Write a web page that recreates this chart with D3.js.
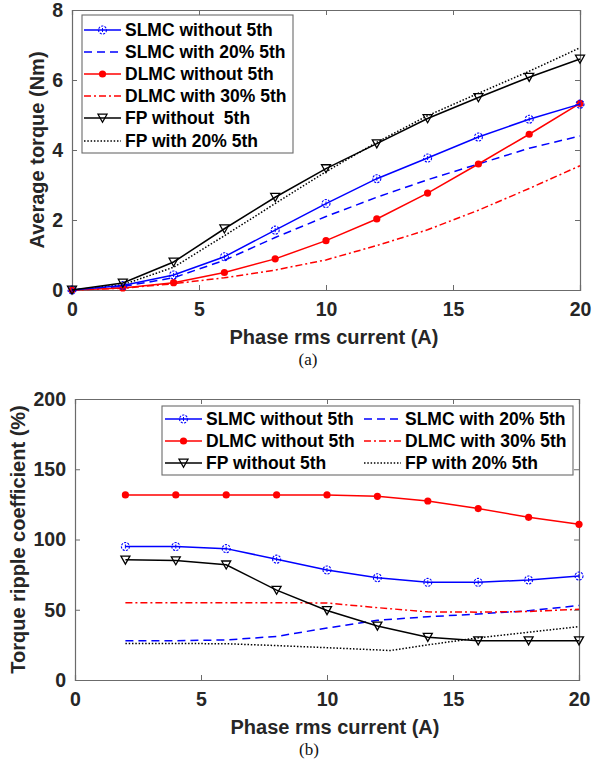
<!DOCTYPE html>
<html><head><meta charset="utf-8">
<script src="https://cdn.jsdelivr.net/npm/d3@7"></script>
<style>body{margin:0;background:#fff}svg{display:block}text{white-space:pre}</style>
</head><body>
<svg id="c" width="592" height="762"></svg>
<script>
// ---- data: chart (a) average torque ----
const currentA = [0, 2, 4, 6, 8, 10, 12, 14, 16, 18, 20];
const slmcA    = [0, 0.13, 0.43, 0.95, 1.71, 2.47, 3.18, 3.77, 4.37, 4.88, 5.31];
const slmc20A  = [0, 0.10, 0.35, 0.85, 1.50, 2.10, 2.65, 3.15, 3.60, 4.05, 4.40];
const dlmcA    = [0, 0.06, 0.21, 0.50, 0.89, 1.41, 2.03, 2.77, 3.60, 4.45, 5.33];
const dlmc30A  = [0, 0.05, 0.18, 0.35, 0.57, 0.86, 1.27, 1.72, 2.28, 2.90, 3.55];
const fpA      = [0, 0.20, 0.80, 1.75, 2.65, 3.47, 4.18, 4.90, 5.50, 6.08, 6.60];
const fp20A    = [0, 0.15, 0.65, 1.55, 2.47, 3.38, 4.22, 4.98, 5.62, 6.25, 6.92];
const xTicksA = [0, 5, 10, 15, 20];
const yTicksA = [0, 2, 4, 6, 8];

// ---- data: chart (b) torque ripple coefficient ----
const currentB = [2, 4, 6, 8, 10, 12, 14, 16, 18, 20];
const slmcB    = [95, 95, 93.5, 86, 78.3, 72.8, 69.5, 69.5, 71.2, 74];
const slmc20B  = [28, 28, 28.5, 31, 37, 42.5, 45, 47, 49.3, 53];
const dlmcB    = [131.7, 131.7, 131.7, 131.7, 131.7, 130.7, 127.4, 122, 115.8, 110.8];
const dlmc30B  = [55, 55, 55, 55, 54.8, 51.5, 48.5, 48.3, 48.8, 50.3];
const fpB      = [85.5, 85, 82, 64, 49.5, 38.5, 30.5, 28, 28, 28];
const fp20CurrentB = [2, 4, 6, 8, 10, 12.5, 14, 16, 18, 20];
const fp20B    = [26, 26, 25.8, 24.5, 23, 21, 25, 30, 34, 38];
const xTicksB = [0, 5, 10, 15, 20];
const yTicksB = [0, 50, 100, 150, 200];

const labels = {
  slmc: "SLMC without 5th", slmc20: "SLMC with 20% 5th",
  dlmc: "DLMC without 5th", dlmc30: "DLMC with 30% 5th",
  fpA: "FP without  5th", fpB: "FP without 5th", fp20: "FP with 20% 5th"
};

const BLUE = "#0000ff", RED = "#ff0000", BLACK = "#000000";
const TXT = "#262626", AX = "#6b6b6b";
const styles = {
  slmc:   {color: BLUE, dash: null, marker: "circleOpen"},
  slmc20: {color: BLUE, dash: "8,5", marker: null},
  dlmc:   {color: RED, dash: null, marker: "dot"},
  dlmc30: {color: RED, dash: "7,3,2,3", marker: null},
  fp:     {color: BLACK, dash: null, marker: "tri"},
  fp20:   {color: BLACK, dash: "1.5,1.8", marker: null}
};

const svg = d3.select("#c");
const FONT = "'Liberation Sans', Arial, sans-serif";

function drawMarker(g, type, color, x, y) {
  if (type === "circleOpen") {
    g.append("circle").attr("cx", x).attr("cy", y).attr("r", 4)
      .attr("fill", "none").attr("stroke", color).attr("stroke-width", 1.1)
      .attr("stroke-dasharray", "2.2,1.2");
    g.append("line").attr("x1", x).attr("x2", x).attr("y1", y - 2).attr("y2", y + 2)
      .attr("stroke", color).attr("stroke-width", 1);
  } else if (type === "dot") {
    g.append("circle").attr("cx", x).attr("cy", y).attr("r", 3.6).attr("fill", color);
  } else if (type === "tri") {
    g.append("path").attr("d", `M${x-4.5},${y-3.8}L${x+4.5},${y-3.8}L${x},${y+4.2}Z`)
      .attr("fill", "none").attr("stroke", color).attr("stroke-width", 1.3);
  }
}

function drawPanel(cfg) {
  const {L, R, T, B, xDomain, yDomain, xTicks, yTicks, yLabel, yLabelX, tag, series} = cfg;
  const x = d3.scaleLinear().domain(xDomain).range([L, R]);
  const y = d3.scaleLinear().domain(yDomain).range([B, T]);
  const g = svg.append("g");

  // axes with inward ticks on all four sides
  const tl = 5;
  const axB = d3.axisBottom(x).tickValues(xTicks).tickSize(-tl).tickPadding(10).tickFormat(d3.format("d"));
  const axT = d3.axisTop(x).tickValues(xTicks).tickSize(-tl).tickFormat("");
  const axL = d3.axisLeft(y).tickValues(yTicks).tickSize(-tl).tickPadding(9).tickFormat(d3.format("d"));
  const axR = d3.axisRight(y).tickValues(yTicks).tickSize(-tl).tickFormat("");
  const gb = g.append("g").attr("transform", `translate(0,${B})`).call(axB);
  const gt = g.append("g").attr("transform", `translate(0,${T})`).call(axT);
  const gl = g.append("g").attr("transform", `translate(${L},0)`).call(axL);
  const gr = g.append("g").attr("transform", `translate(${R},0)`).call(axR);
  [gb, gt, gl, gr].forEach(a => {
    a.select(".domain").attr("stroke", AX).attr("stroke-width", 1.2);
    a.selectAll(".tick line").attr("stroke", AX).attr("stroke-width", 1);
    a.selectAll("text").attr("fill", TXT).attr("font-family", FONT)
      .attr("font-weight", "bold").attr("font-size", 19.5);
  });
  gb.selectAll("text").attr("dy", "0.71em").attr("y", 12);
  gl.selectAll("text").attr("x", -9);

  // series
  const clip = g.append("g");
  series.forEach(s => {
    const st = styles[s.style];
    const pts = s.xs.map((v, i) => [x(v), y(s.ys[i])]);
    clip.append("path").attr("d", d3.line()(pts))
      .attr("fill", "none").attr("stroke", st.color).attr("stroke-width", 1.5)
      .attr("stroke-dasharray", st.dash);
    if (st.marker) pts.forEach(p => drawMarker(clip, st.marker, st.color, p[0], p[1]));
  });

  // axis labels
  g.append("text").attr("x", (L + R) / 2 + 8).attr("y", B + 54).attr("text-anchor", "middle")
    .attr("font-family", FONT).attr("font-weight", "bold").attr("font-size", 20)
    .attr("fill", TXT).text("Phase rms current (A)");
  g.append("text").attr("transform", `translate(${yLabelX},${(T + B) / 2}) rotate(-90)`)
    .attr("text-anchor", "middle").attr("dy", "0.35em")
    .attr("font-family", FONT).attr("font-weight", "bold").attr("font-size", 20)
    .attr("fill", TXT).text(yLabel);
  g.append("text").attr("x", (L + R) / 2 - 18).attr("y", B + 75).attr("text-anchor", "middle")
    .attr("font-family", "'Liberation Serif', 'Times New Roman', serif").attr("font-size", 17)
    .attr("fill", "#111").text(tag);

  // legend
  const lg = cfg.legend;
  g.append("rect").attr("x", lg.x).attr("y", lg.y).attr("width", lg.w).attr("height", lg.h)
    .attr("fill", "#fff").attr("stroke", AX).attr("stroke-width", 1.1);
  lg.items.forEach(it => {
    const st = styles[it.style];
    const lx0 = it.x, lx1 = it.x + 37, ly = it.y - 6;
    g.append("line").attr("x1", lx0).attr("x2", lx1).attr("y1", ly).attr("y2", ly)
      .attr("stroke", st.color).attr("stroke-width", 1.5).attr("stroke-dasharray", st.dash);
    if (st.marker) drawMarker(g, st.marker, st.color, (lx0 + lx1) / 2, ly);
    g.append("text").attr("x", it.x + 41).attr("y", it.y)
      .attr("font-family", FONT).attr("font-weight", "bold").attr("font-size", 17.5)
      .attr("fill", "#000").text(it.label);
  });
}

drawPanel({
  L: 72, R: 580, T: 10, B: 290, xDomain: [0, 20], yDomain: [0, 8],
  xTicks: xTicksA, yTicks: yTicksA, yLabel: "Average torque (Nm)", yLabelX: 37, tag: "(a)",
  series: [
    {xs: currentA, ys: slmc20A, style: "slmc20"},
    {xs: currentA, ys: dlmc30A, style: "dlmc30"},
    {xs: currentA, ys: fp20A, style: "fp20"},
    {xs: currentA, ys: dlmcA, style: "dlmc"},
    {xs: currentA, ys: slmcA, style: "slmc"},
    {xs: currentA, ys: fpA, style: "fp"}
  ],
  legend: {x: 82, y: 15, w: 211, h: 138, items: [
    {x: 84, y: 36, style: "slmc", label: labels.slmc},
    {x: 84, y: 58, style: "slmc20", label: labels.slmc20},
    {x: 84, y: 80, style: "dlmc", label: labels.dlmc},
    {x: 84, y: 102, style: "dlmc30", label: labels.dlmc30},
    {x: 84, y: 124, style: "fp", label: labels.fpA},
    {x: 84, y: 147, style: "fp20", label: labels.fp20}
  ]}
});

drawPanel({
  L: 75, R: 579, T: 399, B: 680, xDomain: [0, 20], yDomain: [0, 200],
  xTicks: xTicksB, yTicks: yTicksB, yLabel: "Torque ripple coefficient (%)", yLabelX: 18, tag: "(b)",
  series: [
    {xs: currentB, ys: slmc20B, style: "slmc20"},
    {xs: currentB, ys: dlmc30B, style: "dlmc30"},
    {xs: fp20CurrentB, ys: fp20B, style: "fp20"},
    {xs: currentB, ys: dlmcB, style: "dlmc"},
    {xs: currentB, ys: slmcB, style: "slmc"},
    {xs: currentB, ys: fpB, style: "fp"}
  ],
  legend: {x: 162, y: 406, w: 411, h: 69, items: [
    {x: 165, y: 425, style: "slmc", label: labels.slmc},
    {x: 165, y: 447, style: "dlmc", label: labels.dlmc},
    {x: 165, y: 469, style: "fp", label: labels.fpB},
    {x: 364, y: 425, style: "slmc20", label: labels.slmc20},
    {x: 364, y: 447, style: "dlmc30", label: labels.dlmc30},
    {x: 364, y: 469, style: "fp20", label: labels.fp20}
  ]}
});
</script>
</body></html>
